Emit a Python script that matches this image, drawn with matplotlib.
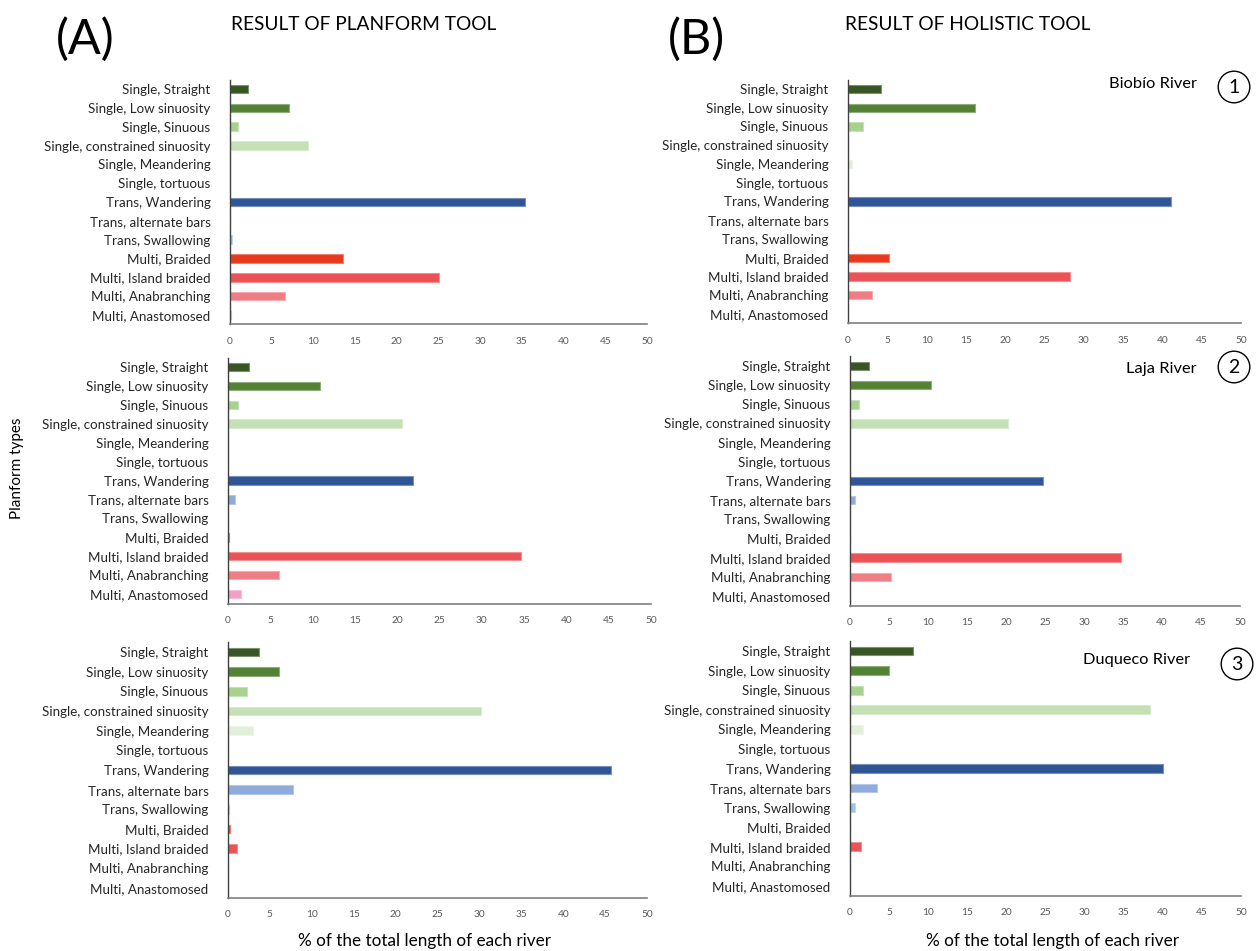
import matplotlib
matplotlib.use('Agg')
import matplotlib.pyplot as plt
from matplotlib.colors import to_rgb
from matplotlib.patches import Circle
import numpy as np

plt.rcParams['font.family'] = ['Lato', 'DejaVu Sans']

categories = ['Single, Straight', 'Single, Low sinuosity', 'Single, Sinuous',
              'Single, constrained sinuosity', 'Single, Meandering', 'Single, tortuous',
              'Trans, Wandering', 'Trans, alternate bars', 'Trans, Swallowing',
              'Multi, Braided', 'Multi, Island braided', 'Multi, Anabranching',
              'Multi, Anastomosed']

bar_colors = ['#375623', '#548235', '#a9d18e', '#c5e0b4', '#e2f0d9', '#ffffff',
              '#2f5597', '#8faadc', '#9dc3e6', '#e8391f', '#ea5256', '#ef7d85',
              '#f29fc5']

# % of total length - planform tool (A)
planform_biobio = [2.2, 7.1, 1.0, 9.4, 0, 0, 35.4, 0, 0.2, 13.6, 25.0, 6.6, 0.1]
planform_laja = [2.5, 10.9, 1.2, 20.6, 0, 0, 21.9, 0.8, 0, 0.15, 34.6, 6.0, 1.5]
planform_duqueco = [3.7, 6.1, 2.3, 30.2, 3.0, 0, 45.7, 7.7, 0.1, 0.25, 1.05, 0.05, 0]

# % of total length - holistic tool (B)
holistic_biobio = [4.2, 16.1, 1.9, 0, 0.5, 0, 41.1, 0, 0, 5.2, 28.2, 3.1, 0]
holistic_laja = [2.45, 10.4, 1.2, 20.3, 0, 0, 24.8, 0.7, 0, 0, 34.8, 5.3, 0]
holistic_duqueco = [8.0, 5.0, 1.7, 38.4, 1.7, 0, 40.0, 3.5, 0.6, 0, 1.4, 0, 0]

x_ticks = [0, 5, 10, 15, 20, 25, 30, 35, 40, 45, 50]
river_names = ['Biobío River', 'Laja River', 'Duqueco River']

W, H = 1257, 951
fig = plt.figure(figsize=(W / 100, H / 100), dpi=100)


def px_axes(left, right, top, bottom):
    return fig.add_axes([left / W, 1 - bottom / H, (right - left) / W, (bottom - top) / H])


def lighter(c, f=0.35):
    r, g, b = to_rgb(c)
    return (r + (1 - r) * f, g + (1 - g) * f, b + (1 - b) * f)


def draw_panel(ax, values):
    y = np.arange(len(categories))
    ax.barh(y, values, height=0.45, color=bar_colors,
            edgecolor=[lighter(c) for c in bar_colors], linewidth=0.8)
    ax.set_ylim(len(categories) - 0.5, -0.5)
    ax.set_xlim(0, 50)
    ax.set_yticks(y)
    ax.set_yticklabels(categories, fontsize=9.6, color='#262626')
    ax.set_xticks(x_ticks)
    ax.set_xticklabels([str(t) for t in x_ticks], fontsize=7.3, color='#595959')
    ax.tick_params(axis='both', length=0)
    ax.tick_params(axis='y', pad=14)
    ax.tick_params(axis='x', pad=9)
    for s in ['top', 'right']:
        ax.spines[s].set_visible(False)
    ax.spines['left'].set_color('#404040')
    ax.spines['left'].set_linewidth(1.0)
    ax.spines['bottom'].set_color('#7f7f7f')
    ax.spines['bottom'].set_linewidth(1.2)


# column A
axA1 = px_axes(230, 647, 79.6, 324.4)
axA2 = px_axes(228, 651, 357.5, 603.5)
axA3 = px_axes(228, 647, 642.2, 897.8)
# column B
axB1 = px_axes(848, 1241, 79.6, 323.4)
axB2 = px_axes(850, 1240, 356.4, 605.6)
axB3 = px_axes(850, 1241, 641.2, 895.8)

for ax, vals in [(axA1, planform_biobio), (axA2, planform_laja), (axA3, planform_duqueco),
                 (axB1, holistic_biobio), (axB2, holistic_laja), (axB3, holistic_duqueco)]:
    draw_panel(ax, vals)

# headers
fig.text(85 / W, 1 - 39 / H, '(A)', fontsize=35, ha='center', va='center')
fig.text(697 / W, 1 - 39 / H, '(B)', fontsize=35, ha='center', va='center')
fig.text(364 / W, 1 - 25 / H, 'RESULT OF PLANFORM TOOL', fontsize=13.8, ha='center', va='center')
fig.text(968 / W, 1 - 25 / H, 'RESULT OF HOLISTIC TOOL', fontsize=13.8, ha='center', va='center')

fig.text(17 / W, 1 - 468 / H, 'Planform types', fontsize=11, rotation=90,
         ha='center', va='center')
fig.text(424 / W, 1 - 941 / H, '% of the total length of each river', fontsize=12.3,
         ha='center', va='center')
fig.text(1053 / W, 1 - 941 / H, '% of the total length of each river', fontsize=12.3,
         ha='center', va='center')

# river labels with numbered circles
river_pos = [(1197, 84, 1234, 87), (1197, 369, 1234, 367), (1190, 660, 1237, 664)]
for i, (name, (tx, ty, cx, cy)) in enumerate(zip(river_names, river_pos)):
    fig.text(tx / W, 1 - ty / H, name, fontsize=11.8, ha='right', va='center')
    ax_c = fig.add_axes([(cx - 17) / W, 1 - (cy + 17) / H, 34 / W, 34 / H])
    ax_c.set_xlim(-1, 1)
    ax_c.set_ylim(-1, 1)
    ax_c.set_aspect('equal')
    ax_c.axis('off')
    ax_c.add_patch(Circle((0, 0), 0.93, fill=False, edgecolor='black', linewidth=1.0))
    ax_c.text(0, -0.03, str(i + 1), fontsize=14, ha='center', va='center')

fig.savefig('out.png', dpi=100, facecolor='white')
